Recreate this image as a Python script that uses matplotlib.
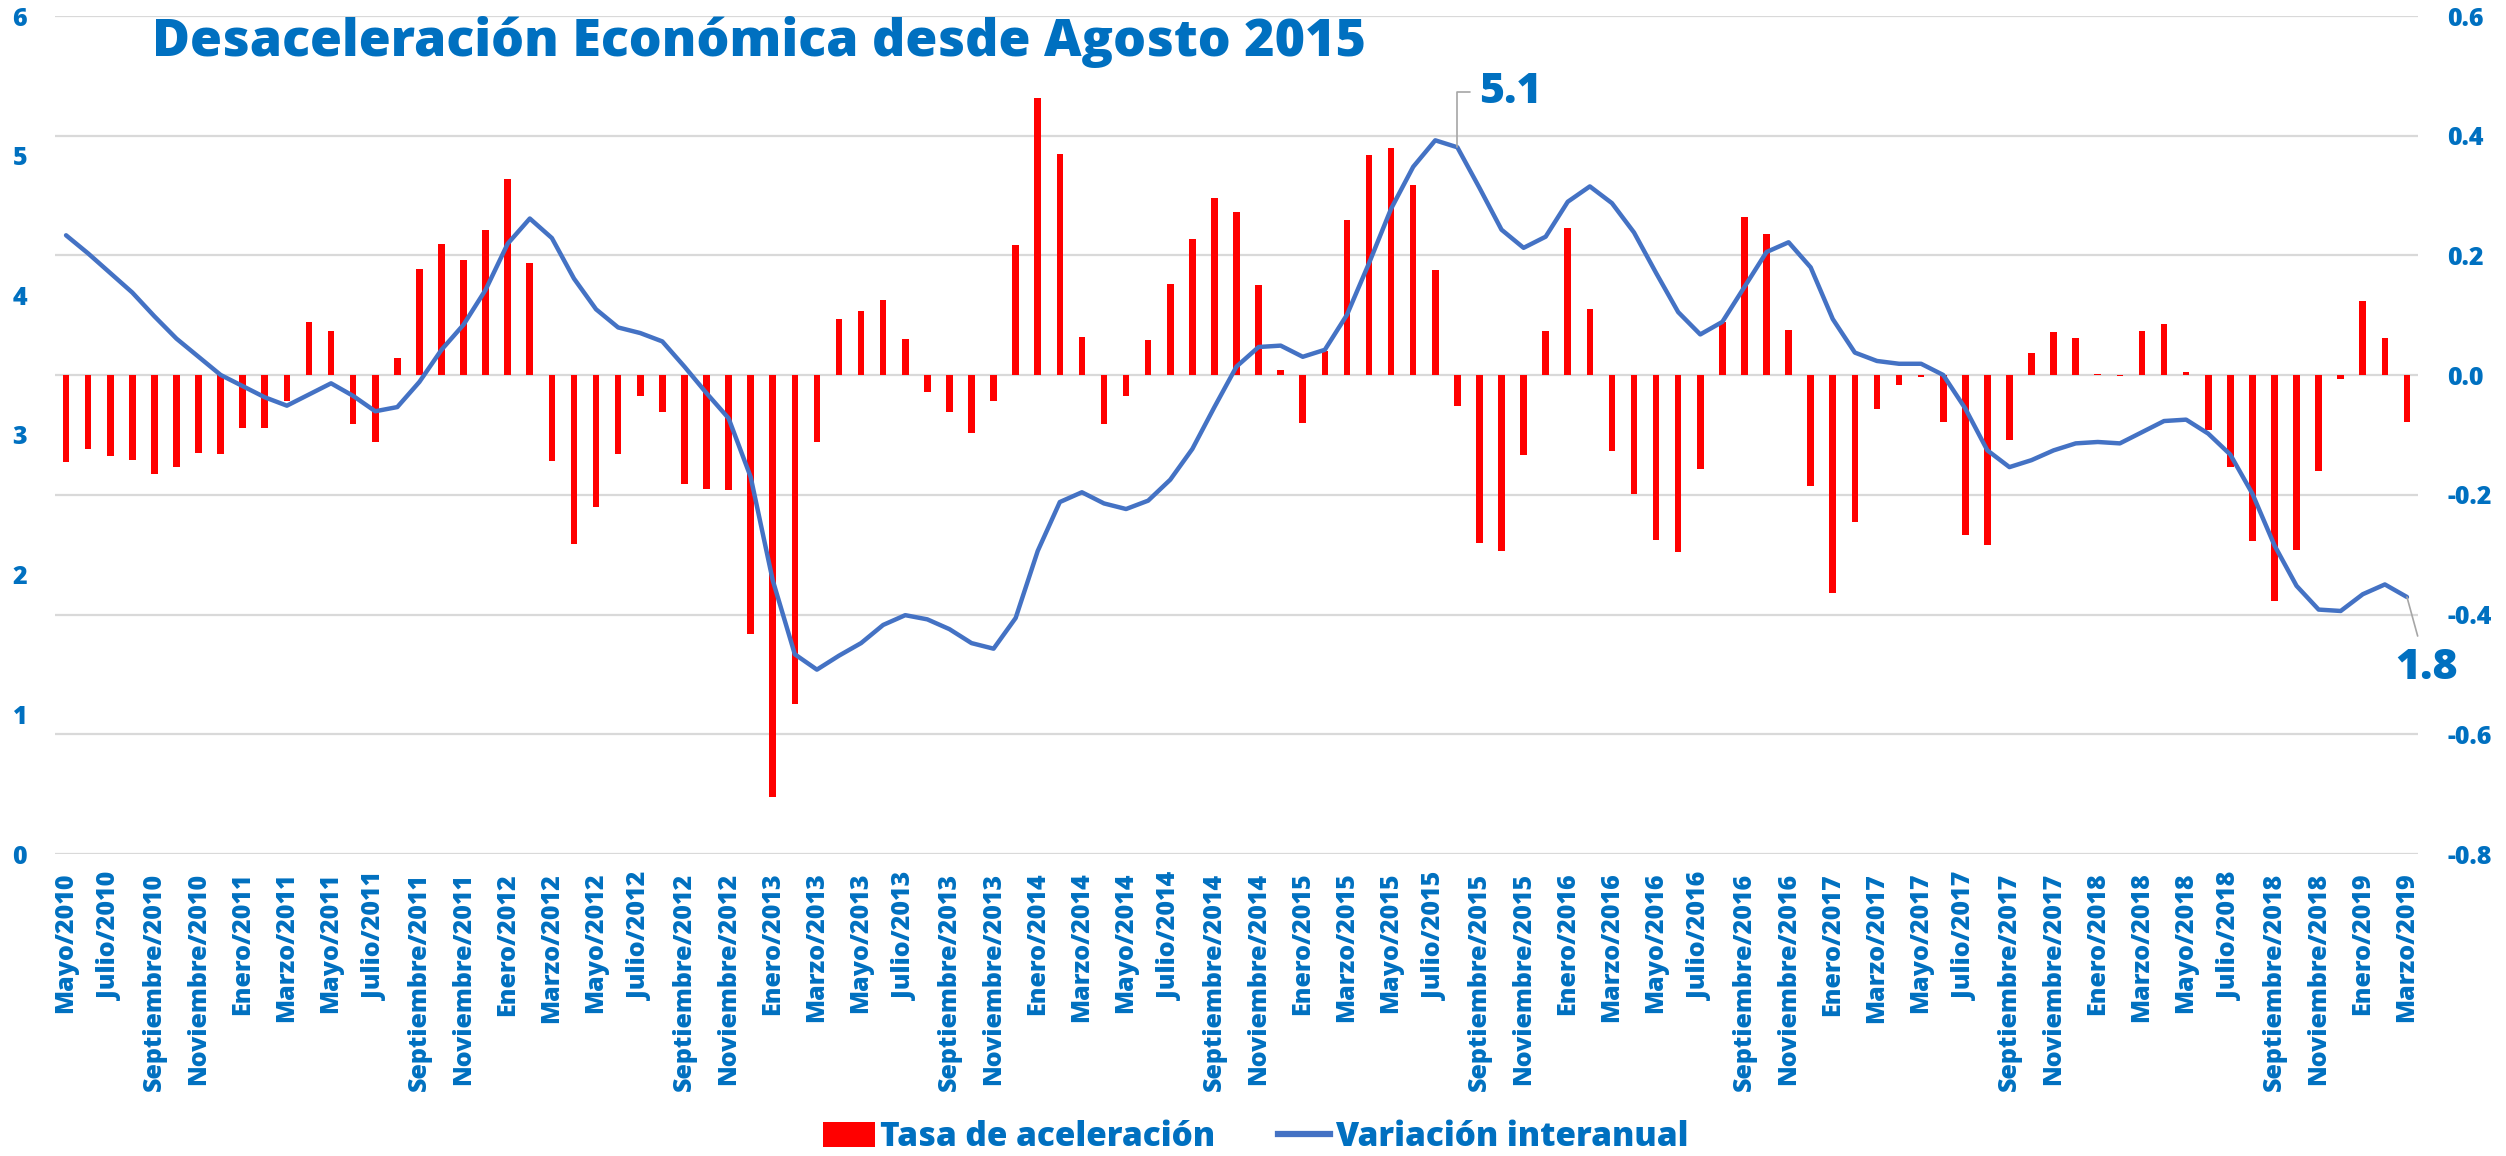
import numpy as np
import matplotlib
matplotlib.use("Agg")
import matplotlib.pyplot as plt
from matplotlib.patches import Patch
from matplotlib.lines import Line2D
from matplotlib.ticker import FormatStrFormatter

W, H = 2506, 1156
AZUL = '#0070C0'
FONT = 'Open Sans'

# meses de mayo/2010 a marzo/2019
nombres_mes = ['Enero', 'Febrero', 'Marzo', 'Abril', 'Mayo', 'Junio', 'Julio',
               'Agosto', 'Septiembre', 'Octubre', 'Noviembre', 'Diciembre']
meses = []
for anio in range(2010, 2020):
    for m, nombre in enumerate(nombres_mes):
        if (anio == 2010 and m < 4) or (anio == 2019 and m > 2):
            continue
        meses.append(f'{nombre}/{anio}')

# variacion interanual (eje izquierdo)
variacion_interanual = [
    4.43, 4.30, 4.16, 4.02, 3.85, 3.69, 3.56, 3.43, 3.35, 3.27,
    3.21, 3.29, 3.37, 3.28, 3.17, 3.20, 3.38, 3.61, 3.79, 4.04,
    4.37, 4.55, 4.41, 4.12, 3.90, 3.77, 3.73, 3.67, 3.49, 3.30,
    3.12, 2.70, 1.96, 1.43, 1.32, 1.42, 1.51, 1.64, 1.71, 1.68,
    1.61, 1.51, 1.47, 1.69, 2.17, 2.52, 2.59, 2.51, 2.47, 2.53,
    2.68, 2.90, 3.20, 3.49, 3.63, 3.64, 3.56, 3.61, 3.86, 4.23,
    4.62, 4.92, 5.11, 5.06, 4.77, 4.47, 4.34, 4.42, 4.67, 4.78,
    4.66, 4.45, 4.16, 3.88, 3.72, 3.81, 4.06, 4.31, 4.38, 4.20,
    3.83, 3.59, 3.53, 3.51, 3.51, 3.43, 3.19, 2.89, 2.77, 2.82,
    2.89, 2.94, 2.95, 2.94, 3.02, 3.10, 3.11, 3.01, 2.86, 2.58,
    2.21, 1.92, 1.75, 1.74, 1.86, 1.93, 1.84,
]

# tasa de aceleracion (eje derecho)
tasa_aceleracion = [
    -0.145, -0.124, -0.135, -0.141, -0.165, -0.154, -0.130, -0.132, -0.089, -0.088,
    -0.044, 0.088, 0.073, -0.081, -0.111, 0.028, 0.177, 0.219, 0.193, 0.242,
    0.328, 0.187, -0.144, -0.282, -0.221, -0.132, -0.035, -0.062, -0.182, -0.190,
    -0.192, -0.432, -0.704, -0.549, -0.111, 0.094, 0.107, 0.125, 0.060, -0.028,
    -0.061, -0.097, -0.044, 0.218, 0.463, 0.370, 0.064, -0.081, -0.035, 0.059,
    0.152, 0.227, 0.296, 0.272, 0.150, 0.009, -0.080, 0.040, 0.260, 0.367,
    0.380, 0.318, 0.175, -0.051, -0.281, -0.293, -0.133, 0.073, 0.245, 0.111,
    -0.126, -0.199, -0.276, -0.296, -0.156, 0.088, 0.265, 0.236, 0.076, -0.185,
    -0.364, -0.245, -0.057, -0.017, -0.003, -0.078, -0.267, -0.283, -0.108, 0.037,
    0.072, 0.062, 0.002, -0.002, 0.074, 0.085, 0.006, -0.092, -0.154, -0.277,
    -0.377, -0.292, -0.160, -0.007, 0.124, 0.062, -0.078,
]

ticks_izq = [0, 1, 2, 3, 4, 5, 6]
ticks_der = [-0.8, -0.6, -0.4, -0.2, 0.0, 0.2, 0.4, 0.6]

fig = plt.figure(figsize=(W / 100, H / 100), dpi=100)
ax_bar = fig.add_axes([55 / W, 1 - 854 / H, (2418 - 55) / W, (854 - 16) / H])
ax_line = ax_bar.twinx()

x = np.arange(len(meses))
ax_bar.bar(x, tasa_aceleracion, width=0.3, color='#FF0000', zorder=2)
ax_bar.set_ylim(-0.8, 0.6)
ax_bar.set_yticks(ticks_der)
ax_bar.yaxis.set_major_formatter(FormatStrFormatter('%.1f'))
ax_bar.yaxis.tick_right()
ax_bar.grid(axis='y', color='#D9D9D9', linewidth=1.6, zorder=0)
ax_bar.set_axisbelow(True)
ax_bar.set_xlim(-0.5, len(meses) - 0.5)
ax_bar.set_xticks(x[::2])
ax_bar.set_xticklabels(meses[::2], rotation=90)

ax_line.plot(x, variacion_interanual, color='#4472C4', linewidth=3.2,
             solid_joinstyle='round', solid_capstyle='round')
ax_line.set_ylim(0, 6)
ax_line.set_yticks(ticks_izq)
ax_line.yaxis.tick_left()

for a in (ax_bar, ax_line):
    for s in a.spines.values():
        s.set_visible(False)

ax_bar.tick_params(axis='x', length=0, pad=13.5, labelcolor=AZUL)
ax_bar.tick_params(axis='y', length=0, pad=21, labelcolor=AZUL)
ax_line.tick_params(axis='y', length=0, pad=20, labelcolor=AZUL)
for lab in ax_bar.get_xticklabels() + ax_bar.get_yticklabels() + ax_line.get_yticklabels():
    lab.set_fontfamily(FONT)
    lab.set_fontweight('heavy')
    lab.set_fontsize(18)

# etiquetas de datos
i_ago = meses.index('Agosto/2015')
ax_line.annotate(f'{variacion_interanual[i_ago]:.1f}', xy=(x[i_ago], variacion_interanual[i_ago]),
                 xytext=(38, 40), textcoords='offset points', ha='center', va='center',
                 fontsize=31, fontweight='heavy', family=FONT, color=AZUL,
                 arrowprops=dict(arrowstyle='-', color='#A6A6A6', lw=1.2,
                                 connectionstyle='angle,angleA=0,angleB=90,rad=0',
                                 shrinkA=4, shrinkB=0))
ax_line.annotate(f'{variacion_interanual[-1]:.1f}', xy=(x[-1], variacion_interanual[-1]),
                 xytext=(14, -51), textcoords='offset points', ha='center', va='center',
                 fontsize=31, fontweight='heavy', family=FONT, color=AZUL,
                 arrowprops=dict(arrowstyle='-', color='#A6A6A6', lw=1.2,
                                 shrinkA=6, shrinkB=0))

fig.text(152 / W, 1 - 56 / H, 'Desaceleración Económica desde Agosto 2015',
         ha='left', va='baseline', fontsize=37.4, fontweight='heavy', family=FONT, color=AZUL)

handles = [Patch(facecolor='#FF0000', edgecolor='none'),
           Line2D([], [], color='#4472C4', linewidth=4.5)]
leg = fig.legend(handles, ['Tasa de aceleración', 'Variación interanual'],
                 loc='center', bbox_to_anchor=(0.501, 1 - 1137 / H), ncol=2, frameon=False,
                 prop={'family': FONT, 'weight': 'heavy', 'size': 24},
                 handlelength=1.55, handleheight=0.8, handletextpad=0.15, columnspacing=1.9)
for t in leg.get_texts():
    t.set_color(AZUL)

fig.savefig('out.png', dpi=100)
